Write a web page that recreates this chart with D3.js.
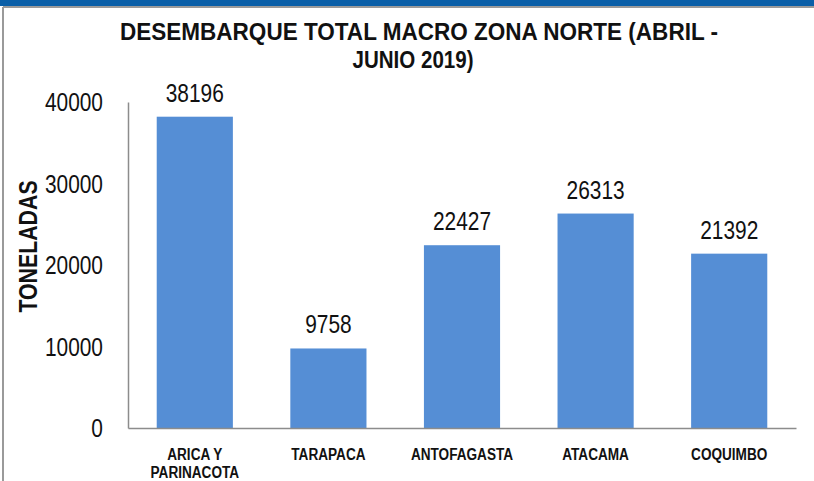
<!DOCTYPE html>
<html><head><meta charset="utf-8">
<script src="https://cdn.jsdelivr.net/npm/d3@7"></script>
<style>body{margin:0;background:#fff}svg{display:block}</style>
</head><body>
<script>
const categories = [["ARICA Y","PARINACOTA"],["TARAPACA"],["ANTOFAGASTA"],["ATACAMA"],["COQUIMBO"]];
const values = [38196, 9758, 22427, 26313, 21392];
const yTicks = [0, 10000, 20000, 30000, 40000];
const titleLines = ["DESEMBARQUE TOTAL MACRO ZONA NORTE (ABRIL -", "JUNIO 2019)"];
const yTitle = "TONELADAS";

const W = 814, H = 481;
const m = {left:128, right:18, top:102, bottom:53};
const svg = d3.select("body").append("svg").attr("width", W).attr("height", H);
const font = "'Liberation Sans',Arial,sans-serif";
const SX = 0.82; // horizontal condensing to mimic a narrow face

// frame
svg.append("rect").attr("x",0).attr("y",0).attr("width",W).attr("height",6).attr("fill","#0a5fa8");
svg.append("line").attr("x1",3).attr("x2",W).attr("y1",7).attr("y2",7).attr("stroke","#9a9a9a").attr("stroke-width",2);
svg.append("line").attr("x1",3).attr("x2",3).attr("y1",7).attr("y2",H).attr("stroke","#9a9a9a").attr("stroke-width",2);

const x = d3.scaleBand().domain(d3.range(values.length)).range([m.left, W - m.right]).paddingInner(0.43).paddingOuter(0.215);
const y = d3.scaleLinear().domain([0, 40000]).range([H - m.bottom, m.top]);

// bars
svg.selectAll("rect.bar").data(values).enter().append("rect").attr("class","bar")
  .attr("x",(d,i)=>x(i)).attr("width",x.bandwidth())
  .attr("y",d=>y(d)).attr("height",d=>y(0)-y(d)).attr("fill","#558ed5");

// value labels
svg.selectAll("text.val").data(values).enter().append("text").attr("class","val")
  .attr("transform",(d,i)=>`translate(${x(i)+x.bandwidth()/2},${y(d)-15}) scale(${SX},1)`)
  .attr("text-anchor","middle").attr("font-family",font).attr("font-size",25.5).attr("fill","#111")
  .text(d=>d);

// y axis
const yAxis = svg.append("g").attr("transform",`translate(${m.left},0)`)
  .call(d3.axisLeft(y).tickValues(yTicks).tickSize(0).tickFormat(""));
yAxis.select(".domain").attr("stroke","#8c8c8c").attr("stroke-width",1.5);
yAxis.selectAll(".tick").append("text")
  .attr("transform",`translate(-25,0) scale(${SX},1)`).attr("dy","0.35em")
  .attr("text-anchor","end").attr("font-family",font).attr("font-size",25.5).attr("fill","#111")
  .text(d=>d3.format("d")(d));

// x axis
const xAxis = svg.append("g").attr("transform",`translate(0,${y(0)})`)
  .call(d3.axisBottom(x).tickSize(0).tickFormat(""));
xAxis.select(".domain").attr("stroke","#8c8c8c").attr("stroke-width",1.5);
xAxis.selectAll(".tick").each(function(d){
  const t = d3.select(this).append("text").attr("text-anchor","middle")
    .attr("transform",`scale(0.8,1)`)
    .attr("font-family",font).attr("font-size",17).attr("font-weight","bold").attr("fill","#111");
  categories[d].forEach((line,k)=>{
    t.append("tspan").attr("x",0).attr("y",32.5 + k*18).text(line);
  });
});

// title
const tw = [598, 121];
const tcx = [419, 413];
titleLines.forEach((l,k)=>{
  svg.append("text").attr("x",tcx[k]).attr("y",39.5 + k*28.5).attr("text-anchor","middle")
    .attr("font-family",font).attr("font-size",23.5).attr("font-weight","bold").attr("fill","#111")
    .attr("textLength",tw[k]).attr("lengthAdjust","spacingAndGlyphs").text(l);
});

// y title
svg.append("text").attr("transform",`translate(37,246.5) rotate(-90) scale(${SX},1)`).attr("text-anchor","middle")
  .attr("font-family",font).attr("font-size",26).attr("font-weight","bold").attr("fill","#111").text(yTitle);
</script>
</body></html>
